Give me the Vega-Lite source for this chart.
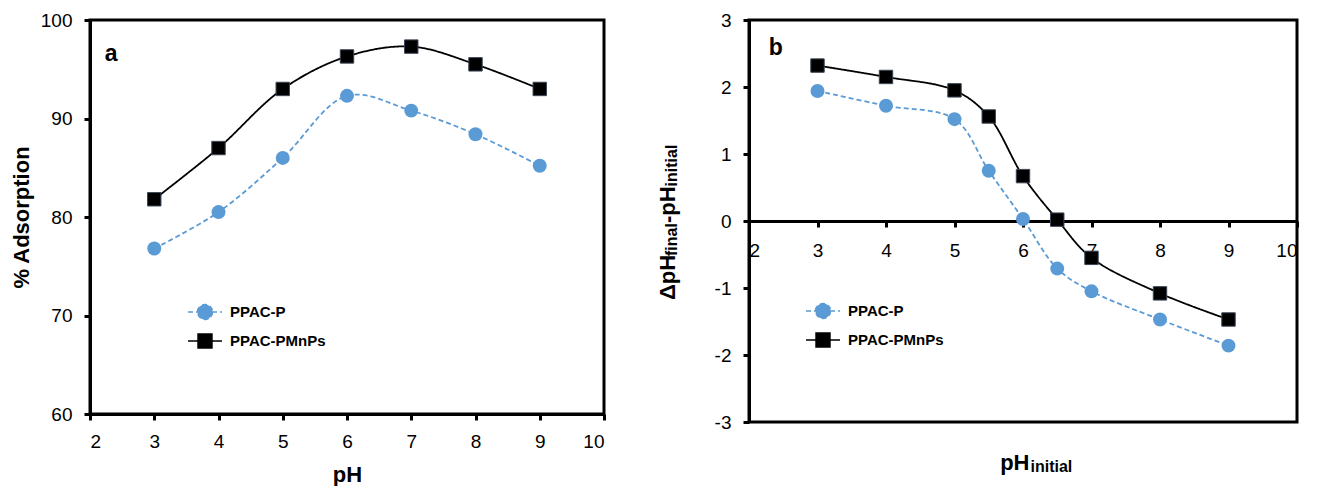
{
  "$schema": "https://vega.github.io/schema/vega-lite/v6.json",
  "background": "white",
  "padding": {"left": 8, "top": 9, "right": 5, "bottom": 0},
  "spacing": 48,
  "config": {
    "view": {"stroke": "black", "strokeWidth": 3},
    "axis": {"grid": false, "domainColor": "black", "domainWidth": 3, "tickColor": "black", "tickWidth": 3, "tickSize": 6, "labelFont": "Liberation Sans", "labelFontSize": 19, "labelColor": "black", "titleFont": "Liberation Sans", "titleFontSize": 22, "titleFontWeight": "bold", "titleColor": "black", "labelExpr": "datum.value + ''"},
    "text": {"font": "Liberation Sans"}
  },
  "resolve": {"scale": {"color": "independent", "strokeDash": "independent"}, "legend": {"color": "independent"}},
  "datasets": {
    "adsorption": [
      {"series": "PPAC-P", "pH": 3, "pct": 76.8},
      {"series": "PPAC-P", "pH": 4, "pct": 80.5},
      {"series": "PPAC-P", "pH": 5, "pct": 86.0},
      {"series": "PPAC-P", "pH": 6, "pct": 92.3},
      {"series": "PPAC-P", "pH": 7, "pct": 90.8},
      {"series": "PPAC-P", "pH": 8, "pct": 88.4},
      {"series": "PPAC-P", "pH": 9, "pct": 85.2},
      {"series": "PPAC-PMnPs", "pH": 3, "pct": 81.8},
      {"series": "PPAC-PMnPs", "pH": 4, "pct": 87.0},
      {"series": "PPAC-PMnPs", "pH": 5, "pct": 93.0},
      {"series": "PPAC-PMnPs", "pH": 6, "pct": 96.3},
      {"series": "PPAC-PMnPs", "pH": 7, "pct": 97.3},
      {"series": "PPAC-PMnPs", "pH": 8, "pct": 95.5},
      {"series": "PPAC-PMnPs", "pH": 9, "pct": 93.0}
    ],
    "pzc": [
      {"series": "PPAC-P", "pH": 3, "dpH": 1.94},
      {"series": "PPAC-P", "pH": 4, "dpH": 1.72},
      {"series": "PPAC-P", "pH": 5, "dpH": 1.52},
      {"series": "PPAC-P", "pH": 5.5, "dpH": 0.75},
      {"series": "PPAC-P", "pH": 6, "dpH": 0.03},
      {"series": "PPAC-P", "pH": 6.5, "dpH": -0.71},
      {"series": "PPAC-P", "pH": 7, "dpH": -1.05},
      {"series": "PPAC-P", "pH": 8, "dpH": -1.47},
      {"series": "PPAC-P", "pH": 9, "dpH": -1.86},
      {"series": "PPAC-PMnPs", "pH": 3, "dpH": 2.32},
      {"series": "PPAC-PMnPs", "pH": 4, "dpH": 2.15},
      {"series": "PPAC-PMnPs", "pH": 5, "dpH": 1.95},
      {"series": "PPAC-PMnPs", "pH": 5.5, "dpH": 1.56},
      {"series": "PPAC-PMnPs", "pH": 6, "dpH": 0.67},
      {"series": "PPAC-PMnPs", "pH": 6.5, "dpH": 0.02},
      {"series": "PPAC-PMnPs", "pH": 7, "dpH": -0.55},
      {"series": "PPAC-PMnPs", "pH": 8, "dpH": -1.08},
      {"series": "PPAC-PMnPs", "pH": 9, "dpH": -1.47}
    ]
  },
  "hconcat": [
    {
      "width": 514,
      "height": 394,
      "data": {"name": "adsorption"},
      "layer": [
        {
          "mark": {"type": "line", "interpolate": "catmull-rom", "strokeWidth": 1.8},
          "encoding": {
            "x": {"field": "pH", "type": "quantitative", "scale": {"domain": [2, 10], "nice": false, "zero": false}, "axis": {"values": [2, 3, 4, 5, 6, 7, 8, 9, 10], "title": "pH", "labelPadding": 12, "titlePadding": 13}},
            "y": {"field": "pct", "type": "quantitative", "scale": {"domain": [60, 100], "nice": false, "zero": false}, "axis": {"values": [60, 70, 80, 90, 100], "title": "% Adsorption", "labelPadding": 12, "titlePadding": 7}},
            "color": {"field": "series", "type": "nominal", "scale": {"domain": ["PPAC-P", "PPAC-PMnPs"], "range": ["#5B9BD5", "#000000"]},
              "legend": {"orient": "none", "legendX": 97, "legendY": 274, "title": null, "padding": 0, "rowPadding": -1, "symbolSize": 1156, "symbolStrokeWidth": 1.5, "labelFont": "Liberation Sans", "labelFontSize": 15, "labelFontWeight": "bold", "labelColor": "black", "labelOffset": 7,
                "encode": {"symbols": {"update": {
                  "shape": {"signal": "datum.value === 'PPAC-P' ? 'M-1,0H1M0.44,0A0.44,0.44,0,1,1,-0.44,0A0.44,0.44,0,1,1,0.44,0Z' : 'M-1,0H1M-0.41,-0.41H0.41V0.41H-0.41Z'"},
                  "fill": {"signal": "datum.value === 'PPAC-P' ? '#5B9BD5' : '#000000'"},
                  "stroke": {"signal": "datum.value === 'PPAC-P' ? '#5B9BD5' : '#000000'"},
                  "strokeDash": {"signal": "datum.value === 'PPAC-P' ? [5,3] : [1,0]"},
                  "strokeWidth": {"value": 1.5},
                  "opacity": {"value": 1}
                }}}}},
            "strokeDash": {"field": "series", "type": "nominal", "scale": {"domain": ["PPAC-P", "PPAC-PMnPs"], "range": [[5, 3], [1, 0]]}, "legend": null}
          }
        },
        {
          "transform": [{"filter": "datum.series === 'PPAC-P'"}],
          "mark": {"type": "point", "shape": "circle", "filled": true, "size": 195, "color": "#5B9BD5", "opacity": 1},
          "encoding": {
            "x": {"field": "pH", "type": "quantitative", "scale": {"domain": [2, 10], "nice": false, "zero": false}},
            "y": {"field": "pct", "type": "quantitative", "scale": {"domain": [60, 100], "nice": false, "zero": false}}
          }
        },
        {
          "transform": [{"filter": "datum.series === 'PPAC-PMnPs'"}],
          "mark": {"type": "point", "shape": "square", "filled": true, "size": 180, "fill": "#000000", "stroke": "#3b4656", "strokeWidth": 1, "opacity": 1},
          "encoding": {
            "x": {"field": "pH", "type": "quantitative", "scale": {"domain": [2, 10], "nice": false, "zero": false}},
            "y": {"field": "pct", "type": "quantitative", "scale": {"domain": [60, 100], "nice": false, "zero": false}}
          }
        },
        {
          "data": {"values": [{"t": "a"}]},
          "mark": {"type": "text", "fontSize": 23, "fontWeight": "bold", "align": "center", "baseline": "middle", "color": "black"},
          "encoding": {
            "x": {"datum": 2.33, "type": "quantitative", "scale": {"domain": [2, 10], "nice": false, "zero": false}},
            "y": {"datum": 96.55, "type": "quantitative", "scale": {"domain": [60, 100], "nice": false, "zero": false}},
            "text": {"field": "t"}
          }
        }
      ]
    },
    {
      "width": 548,
      "height": 402,
      "data": {"name": "pzc"},
      "layer": [
        {
          "mark": {"type": "line", "interpolate": "catmull-rom", "strokeWidth": 1.8},
          "encoding": {
            "x": {"field": "pH", "type": "quantitative", "scale": {"domain": [2, 10], "nice": false, "zero": false}, "axis": {"values": [2, 3, 4, 5, 6, 7, 8, 9, 10], "title": null, "offset": -201, "labelPadding": 14}},
            "y": {"field": "dpH", "type": "quantitative", "scale": {"domain": [-3, 3], "nice": false, "zero": false}, "axis": {"values": [-3, -2, -1, 0, 1, 2, 3], "title": null, "labelPadding": 12}},
            "color": {"field": "series", "type": "nominal", "scale": {"domain": ["PPAC-P", "PPAC-PMnPs"], "range": ["#5B9BD5", "#000000"]},
              "legend": {"orient": "none", "legendX": 56, "legendY": 273, "title": null, "padding": 0, "rowPadding": -1, "symbolSize": 1156, "symbolStrokeWidth": 1.5, "labelFont": "Liberation Sans", "labelFontSize": 15, "labelFontWeight": "bold", "labelColor": "black", "labelOffset": 7,
                "encode": {"symbols": {"update": {
                  "shape": {"signal": "datum.value === 'PPAC-P' ? 'M-1,0H1M0.44,0A0.44,0.44,0,1,1,-0.44,0A0.44,0.44,0,1,1,0.44,0Z' : 'M-1,0H1M-0.41,-0.41H0.41V0.41H-0.41Z'"},
                  "fill": {"signal": "datum.value === 'PPAC-P' ? '#5B9BD5' : '#000000'"},
                  "stroke": {"signal": "datum.value === 'PPAC-P' ? '#5B9BD5' : '#000000'"},
                  "strokeDash": {"signal": "datum.value === 'PPAC-P' ? [5,3] : [1,0]"},
                  "strokeWidth": {"value": 1.5},
                  "opacity": {"value": 1}
                }}}}},
            "strokeDash": {"field": "series", "type": "nominal", "scale": {"domain": ["PPAC-P", "PPAC-PMnPs"], "range": [[5, 3], [1, 0]]}, "legend": null}
          }
        },
        {
          "transform": [{"filter": "datum.series === 'PPAC-P'"}],
          "mark": {"type": "point", "shape": "circle", "filled": true, "size": 195, "color": "#5B9BD5", "opacity": 1},
          "encoding": {
            "x": {"field": "pH", "type": "quantitative", "scale": {"domain": [2, 10], "nice": false, "zero": false}},
            "y": {"field": "dpH", "type": "quantitative", "scale": {"domain": [-3, 3], "nice": false, "zero": false}}
          }
        },
        {
          "transform": [{"filter": "datum.series === 'PPAC-PMnPs'"}],
          "mark": {"type": "point", "shape": "square", "filled": true, "size": 180, "fill": "#000000", "stroke": "#3b4656", "strokeWidth": 1, "opacity": 1},
          "encoding": {
            "x": {"field": "pH", "type": "quantitative", "scale": {"domain": [2, 10], "nice": false, "zero": false}},
            "y": {"field": "dpH", "type": "quantitative", "scale": {"domain": [-3, 3], "nice": false, "zero": false}}
          }
        },
        {
          "data": {"values": [{"t": "b"}]},
          "mark": {"type": "text", "fontSize": 23, "fontWeight": "bold", "align": "center", "baseline": "middle", "color": "black"},
          "encoding": {
            "x": {"datum": 2.39, "type": "quantitative", "scale": {"domain": [2, 10], "nice": false, "zero": false}},
            "y": {"datum": 2.58, "type": "quantitative", "scale": {"domain": [-3, 3], "nice": false, "zero": false}},
            "text": {"field": "t"}
          }
        },
        {
          "data": {"values": [{"t": "pH"}]},
          "mark": {"type": "text", "fontSize": 22, "fontWeight": "bold", "align": "right", "baseline": "alphabetic", "color": "black"},
          "encoding": {
            "x": {"datum": 6.095, "type": "quantitative", "scale": {"domain": [2, 10], "nice": false, "zero": false}},
            "y": {"datum": -3.716, "type": "quantitative", "scale": {"domain": [-3, 3], "nice": false, "zero": false}},
            "text": {"field": "t"}
          }
        },
        {
          "data": {"values": [{"t": "initial"}]},
          "mark": {"type": "text", "fontSize": 16, "fontWeight": "bold", "align": "left", "baseline": "alphabetic", "color": "black"},
          "encoding": {
            "x": {"datum": 6.11, "type": "quantitative", "scale": {"domain": [2, 10], "nice": false, "zero": false}},
            "y": {"datum": -3.74, "type": "quantitative", "scale": {"domain": [-3, 3], "nice": false, "zero": false}},
            "text": {"field": "t"}
          }
        },
        {
          "data": {"values": [{"t": "ΔpH"}]},
          "mark": {"type": "text", "fontSize": 22, "fontWeight": "bold", "align": "left", "baseline": "alphabetic", "angle": 270, "color": "black"},
          "encoding": {
            "x": {"datum": 0.927, "type": "quantitative", "scale": {"domain": [2, 10], "nice": false, "zero": false}},
            "y": {"datum": -1.179, "type": "quantitative", "scale": {"domain": [-3, 3], "nice": false, "zero": false}},
            "text": {"field": "t"}
          }
        },
        {
          "data": {"values": [{"t": "final"}]},
          "mark": {"type": "text", "fontSize": 16, "fontWeight": "bold", "align": "left", "baseline": "alphabetic", "angle": 270, "color": "black"},
          "encoding": {
            "x": {"datum": 0.956, "type": "quantitative", "scale": {"domain": [2, 10], "nice": false, "zero": false}},
            "y": {"datum": -0.522, "type": "quantitative", "scale": {"domain": [-3, 3], "nice": false, "zero": false}},
            "text": {"field": "t"}
          }
        },
        {
          "data": {"values": [{"t": "-pH"}]},
          "mark": {"type": "text", "fontSize": 22, "fontWeight": "bold", "align": "left", "baseline": "alphabetic", "angle": 270, "color": "black"},
          "encoding": {
            "x": {"datum": 0.927, "type": "quantitative", "scale": {"domain": [2, 10], "nice": false, "zero": false}},
            "y": {"datum": -0.031, "type": "quantitative", "scale": {"domain": [-3, 3], "nice": false, "zero": false}},
            "text": {"field": "t"}
          }
        },
        {
          "data": {"values": [{"t": "initial"}]},
          "mark": {"type": "text", "fontSize": 16, "fontWeight": "bold", "align": "left", "baseline": "alphabetic", "angle": 270, "color": "black"},
          "encoding": {
            "x": {"datum": 0.956, "type": "quantitative", "scale": {"domain": [2, 10], "nice": false, "zero": false}},
            "y": {"datum": 0.516, "type": "quantitative", "scale": {"domain": [-3, 3], "nice": false, "zero": false}},
            "text": {"field": "t"}
          }
        }
      ]
    }
  ]
}
